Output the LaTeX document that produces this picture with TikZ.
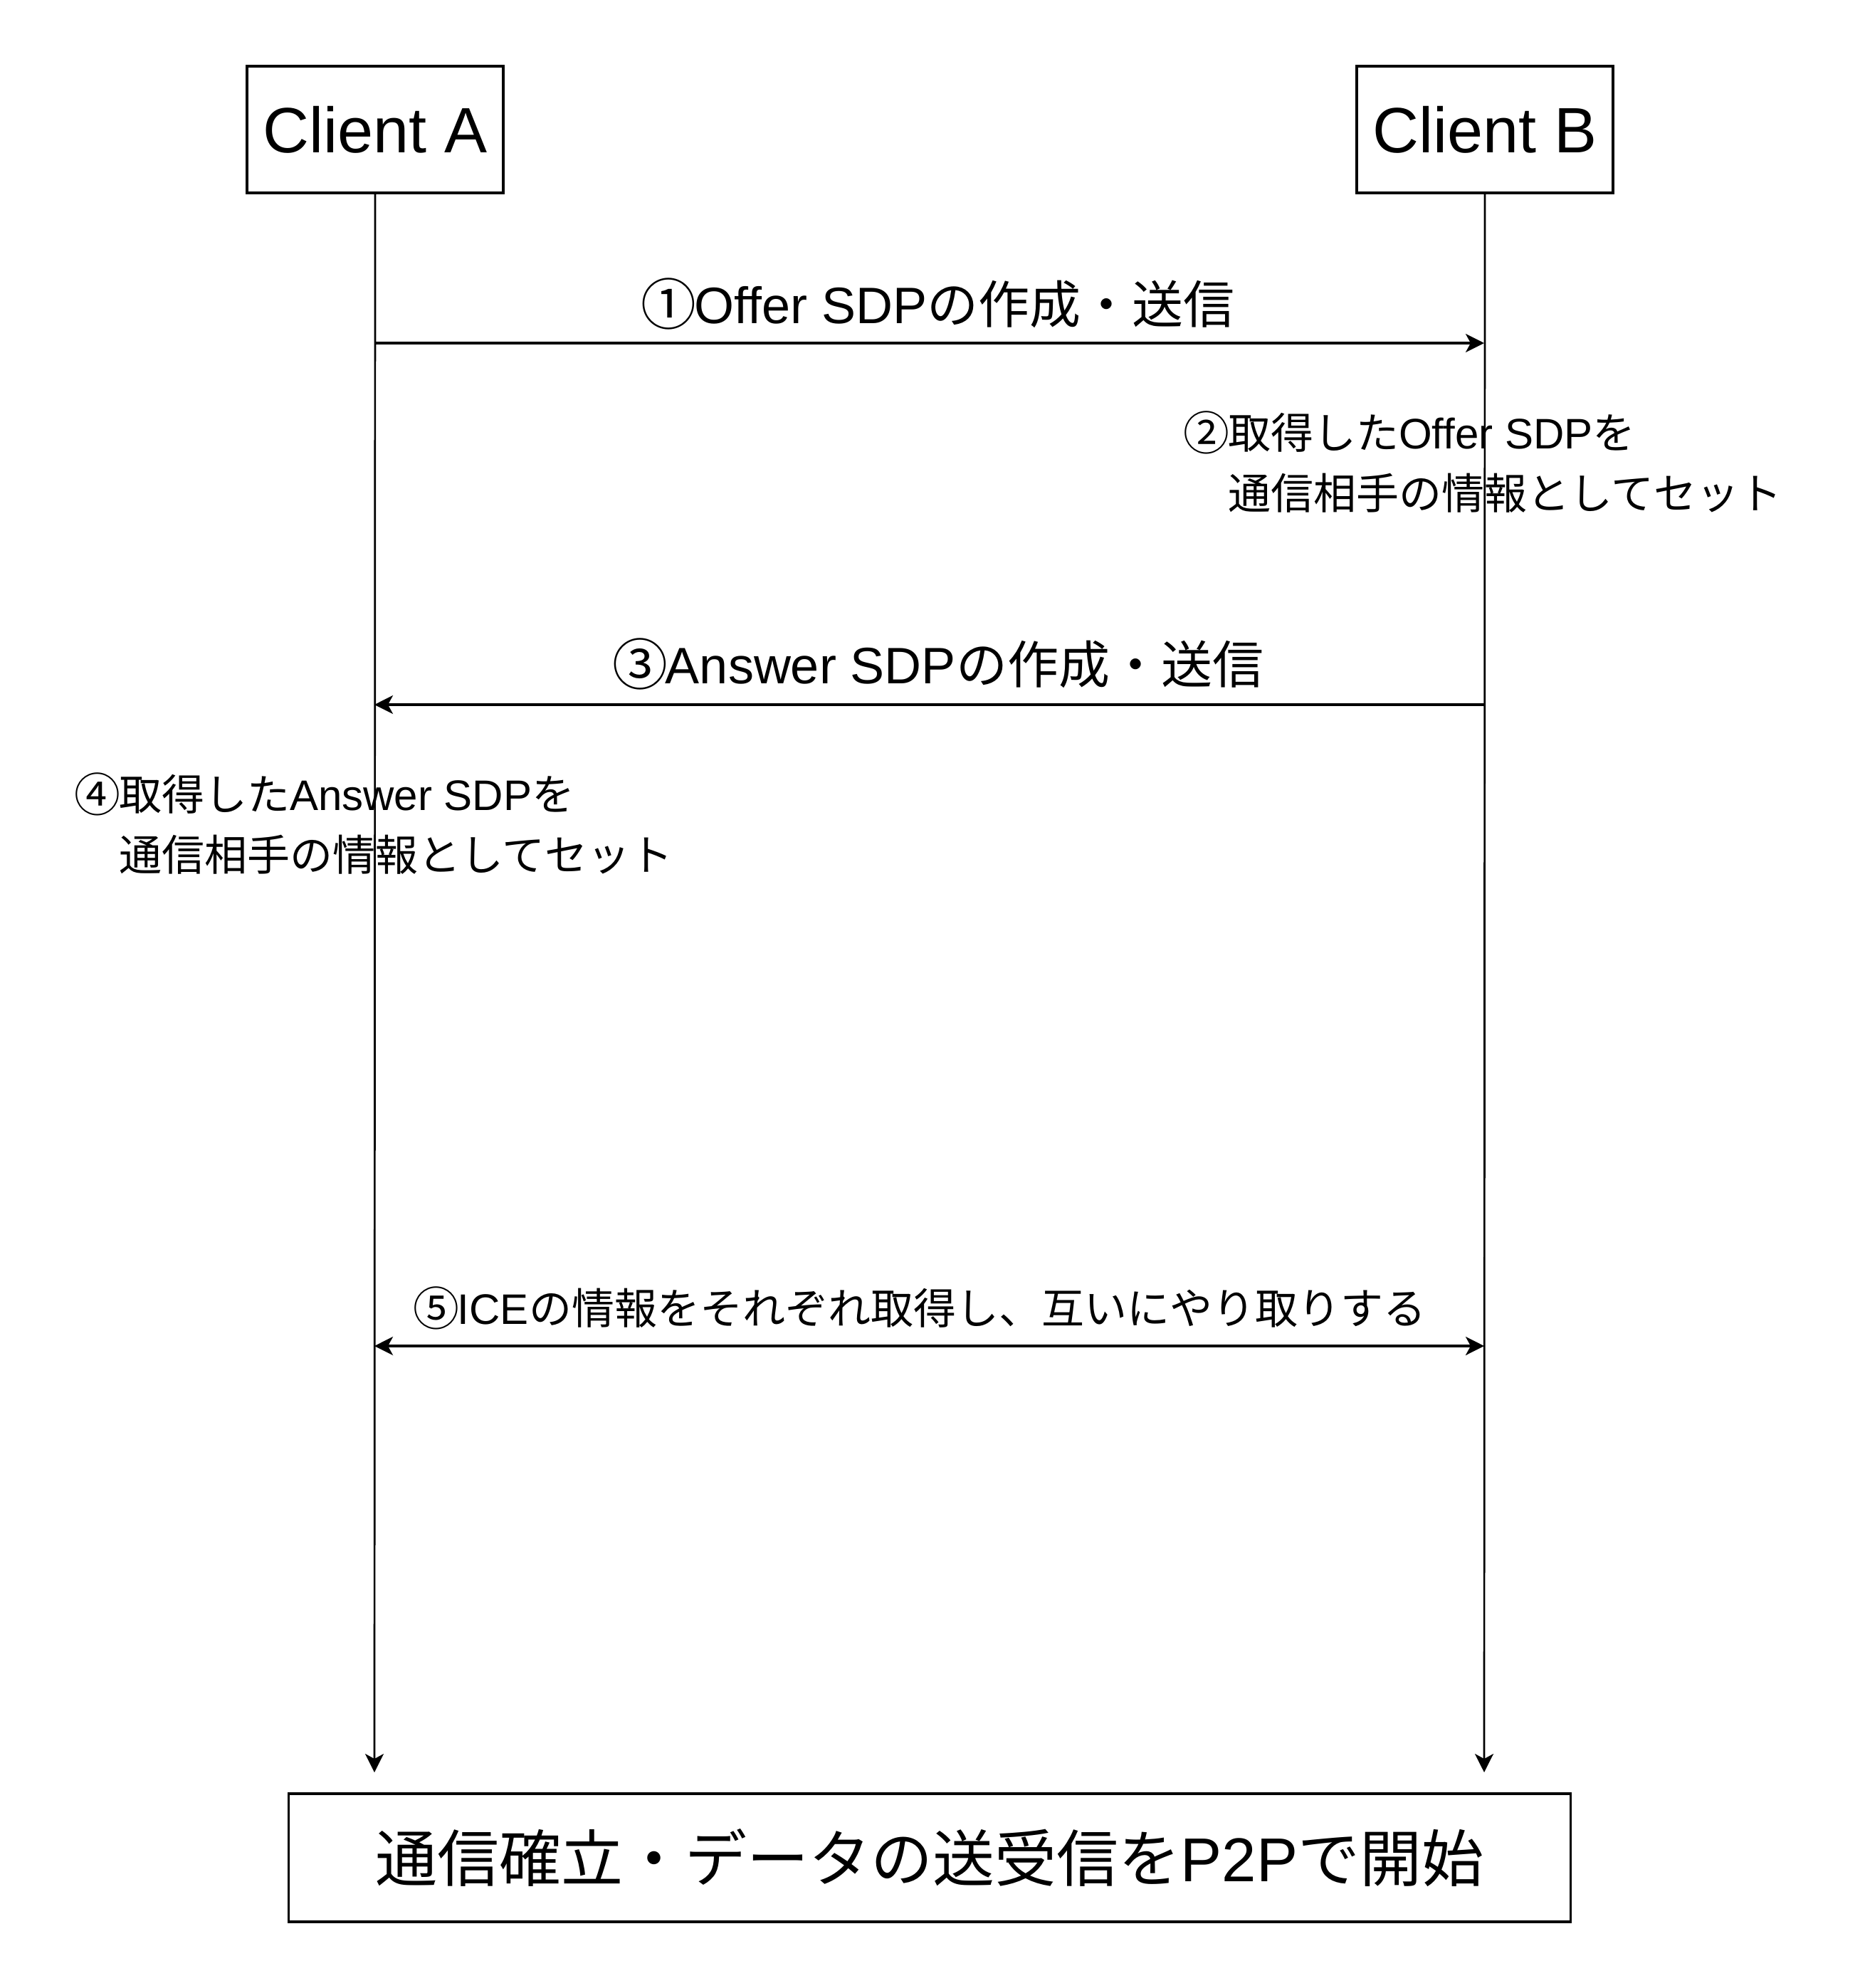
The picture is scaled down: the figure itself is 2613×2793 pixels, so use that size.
\documentclass[tikz,border=0pt]{standalone}
\usepackage{fontspec}
\usepackage{graphicx}
\setmainfont{Liberation Sans}
\newfontfamily\jp{Noto Sans CJK JP}
\usetikzlibrary{arrows.meta}
\newcommand\J[1]{{\jp #1}}
\newcommand\Circ[1]{\makebox[1em]{\raisebox{-0.03em}{\scalebox{1.08}{\jp #1}}}}
\begin{document}
\begin{tikzpicture}[x=1pt,y=-1pt,
  actor/.style={draw,line width=3.4pt,minimum width=360pt,minimum height=178pt,inner sep=0pt,font=\fontsize{90}{108}\selectfont},
  lifeline/.style={line width=2.7pt,-{Stealth[length=26pt,width=26pt,inset=7pt]}},
  msg/.style={line width=3.2pt,-{Stealth[length=26pt,width=26pt,inset=7pt]}},
  bmsg/.style={line width=3.2pt,{Stealth[length=26pt,width=26pt,inset=7pt]}-{Stealth[length=26pt,width=26pt,inset=7pt]}},
  biglabel/.style={inner sep=0pt,font=\fontsize{72}{86}\selectfont},
  smalllabel/.style={inner sep=0pt,align=left,font=\fontsize{60}{85}\selectfont}]
\useasboundingbox (0,0) rectangle (2613,2793);
\fill[white] (0,0) rectangle (2613,2793);
% actors
\node[actor] (A) at (527,182) {Client A};
\node[actor] (B) at (2086,182) {Client B};
\node[actor,minimum width=1801pt,minimum height=180pt,font=\fontsize{87}{104}\selectfont] (E) at (1306,2610) {\J{通信確立・データの送受信を}P2P\J{で開始}};
% lifeline ends
\coordinate (Aend) at (526,2490);
\coordinate (Bend) at (2085,2490);
\draw[lifeline] (A.south) -- (Aend);
\draw[lifeline] (B.south) -- (Bend);
% message points
\coordinate (a1) at (526,482);  \coordinate (b1) at (2085,482);
\coordinate (a3) at (526,990);  \coordinate (b3) at (2085,990);
\coordinate (a5) at (526,1891); \coordinate (b5) at (2085,1891);
\draw[msg] (a1) -- (b1);
\draw[msg] (b3) -- (a3);
\draw[bmsg] (a5) -- (b5);
% labels
\node[biglabel] (L1) at (1319,427) {\Circ{①}Offer SDP\J{の作成・送信}};
\node[smalllabel,anchor=west] (L2) at (1665,649) {\Circ{②}\J{取得した}Offer SDP\J{を}\\\J{　通信相手の情報としてセット}};
\node[biglabel] (L3) at (1319,933) {\Circ{③}Answer SDP\J{の作成・送信}};
\node[smalllabel,anchor=west] (L4) at (107,1157) {\Circ{④}\J{取得した}Answer SDP\J{を}\\\J{　通信相手の情報としてセット}};
\node[inner sep=0pt,font=\fontsize{60}{72}\selectfont] (L5) at (1293,1838) {\Circ{⑤}ICE\J{の情報をそれぞれ取得し、互いにやり取りする}};
\end{tikzpicture}
\end{document}
